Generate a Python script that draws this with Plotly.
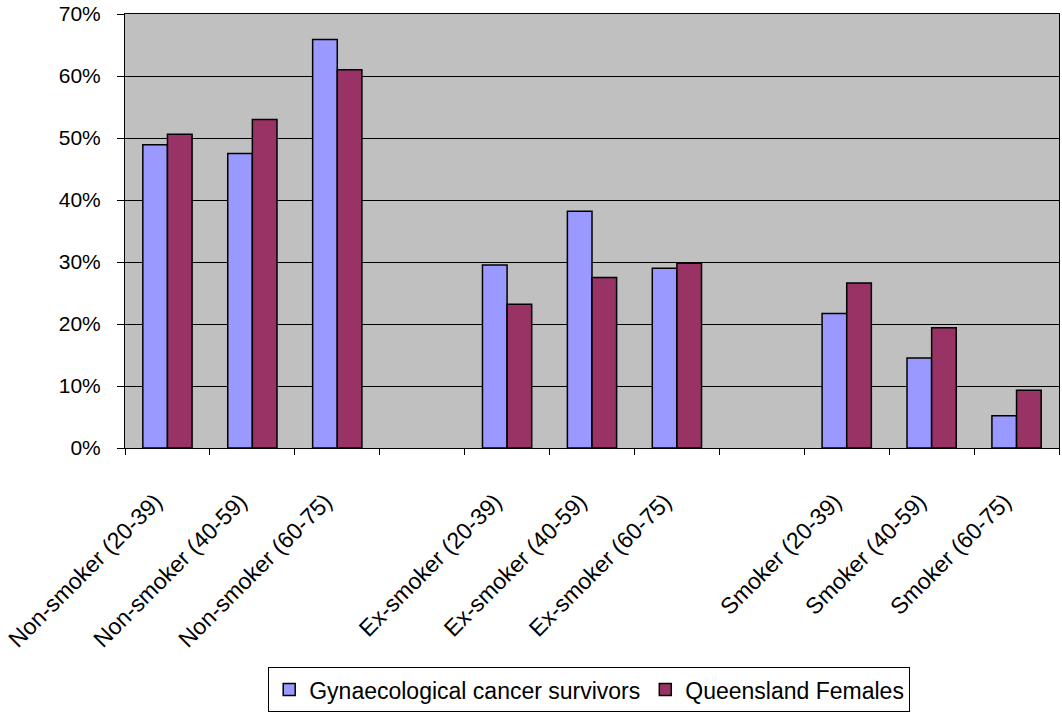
import plotly.graph_objects as go

# Smoking status by age band; blank slots separate the three groups
categories = [
    "Non-smoker (20-39)", "Non-smoker (40-59)", "Non-smoker (60-75)", " ",
    "Ex-smoker (20-39)", "Ex-smoker (40-59)", "Ex-smoker (60-75)", "  ",
    "Smoker (20-39)", "Smoker (40-59)", "Smoker (60-75)",
]
survivors = [0.489, 0.475, 0.659, None, 0.295, 0.382, 0.290, None, 0.217, 0.145, 0.052]
qld_females = [0.506, 0.530, 0.610, None, 0.232, 0.275, 0.298, None, 0.266, 0.194, 0.093]
y_ticks = [0, 0.1, 0.2, 0.3, 0.4, 0.5, 0.6, 0.7]

font_family = "Liberation Sans, Arial, sans-serif"

fig = go.Figure()
fig.add_trace(go.Bar(
    x=categories, y=survivors, name="Gynaecological cancer survivors",
    marker=dict(color="#9999FF", line=dict(color="black", width=1.5)),
))
fig.add_trace(go.Bar(
    x=categories, y=qld_females, name="Queensland Females",
    marker=dict(color="#993366", line=dict(color="black", width=1.5)),
))

fig.update_layout(
    width=1062, height=715,
    margin=dict(l=125, r=2, t=12, b=264),
    paper_bgcolor="white", plot_bgcolor="#C0C0C0",
    barmode="group", bargap=0.42, bargroupgap=0,
    font=dict(family=font_family, size=21, color="black"),
    legend=dict(
        orientation="h", x=0.497, xanchor="center", y=-0.505, yanchor="top",
        bordercolor="black", borderwidth=1, bgcolor="white",
        font=dict(size=23), itemwidth=30, traceorder="normal",
    ),
    xaxis=dict(
        type="category", categoryorder="array", categoryarray=categories,
        tickangle=-45, tickson="boundaries", ticks="outside", ticklen=6,
        tickcolor="black", showline=True, linecolor="black", linewidth=1,
        showgrid=False, mirror=True, ticklabelstandoff=30,
        ticklabelshift=-12, tickfont=dict(size=23),
    ),
    yaxis=dict(
        range=[0, 0.7], tickvals=y_ticks, tickformat=".0%",
        ticks="outside", ticklen=7, tickcolor="black",
        showline=True, linecolor="black", linewidth=1, mirror=True,
        gridcolor="black", gridwidth=1, zeroline=False,
        ticklabelstandoff=12, tickfont=dict(size=21),
    ),
)

fig.write_html("out.html")
